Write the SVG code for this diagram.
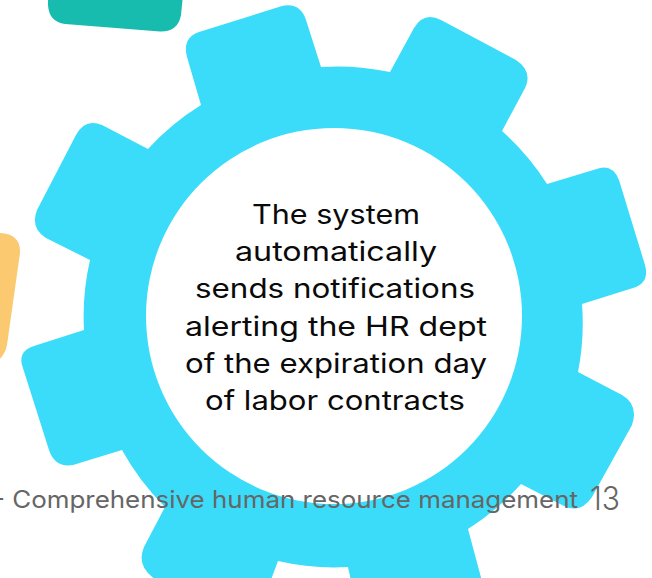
<svg xmlns="http://www.w3.org/2000/svg" width="652" height="578" viewBox="0 0 652 578">
<style>
.t{font-family:"Inter","Liberation Sans",sans-serif;font-size:27px;fill:#0a0a0a;text-anchor:middle}
.f{font-family:"Inter","Liberation Sans",sans-serif;fill:#666}
</style>
<rect width="652" height="578" fill="#fff"/>
<g id="green-shape"><path d="M48 -5V5Q49 22 65 24L160 31.500Q178 32 181 15L183 -5Z" fill="#17bcae"/></g>
<g id="orange-shape"><path d="M-5 233Q21 232 20 253L7 345Q5 356 -5 363Z" fill="#fbc96f"/></g>
<g id="gear">
<path fill="#3adcf9" d="M201 105L187 57Q182 38 199 32L282 6Q300 2 306 20L321 67A250 250 0 0 1 390 72L414 28Q424 11 441 20L516 60Q534 72 524 90L502 131A250 250 0 0 1 547 184L600 168Q613 165 619 180L645 265Q650 283 633 288L582 304A250 250 0 0 1 578 372L622 395Q639 405 632 425L592 497Q580 515 562 505L521 484A250 250 0 0 1 468 529L483 585H352L348 567A250 250 0 0 1 278 561L269 585H165Q134 570 144 547L165 507A250 250 0 0 1 122 450L73 465Q55 468 49 450L22 365Q18 350 37 345L84 330A250 250 0 0 1 90 260L46 238Q30 228 37 210L76 135Q85 118 102 125L148 149A250 250 0 0 1 201 105Z"/>
<circle cx="334" cy="316" r="188" fill="#fff"/>
</g>
<g id="label">
<text class="t" x="336" y="224" textLength="168" lengthAdjust="spacingAndGlyphs">The system</text>
<text class="t" x="336" y="261" textLength="202" lengthAdjust="spacingAndGlyphs">automatically</text>
<text class="t" x="335" y="298" textLength="280" lengthAdjust="spacingAndGlyphs">sends notifications</text>
<text class="t" x="336" y="336" textLength="302" lengthAdjust="spacingAndGlyphs">alerting the HR dept</text>
<text class="t" x="336" y="373" textLength="302" lengthAdjust="spacingAndGlyphs">of the expiration day</text>
<text class="t" x="335" y="410" textLength="260" lengthAdjust="spacingAndGlyphs">of labor contracts</text>
</g>
<g id="footer">
<text class="f" x="-7" y="508" font-size="24" textLength="585" lengthAdjust="spacingAndGlyphs">- Comprehensive human resource management</text>
<text class="f" x="590" y="510" font-size="32" font-weight="300" textLength="30" lengthAdjust="spacingAndGlyphs">13</text>
</g>
</svg>
